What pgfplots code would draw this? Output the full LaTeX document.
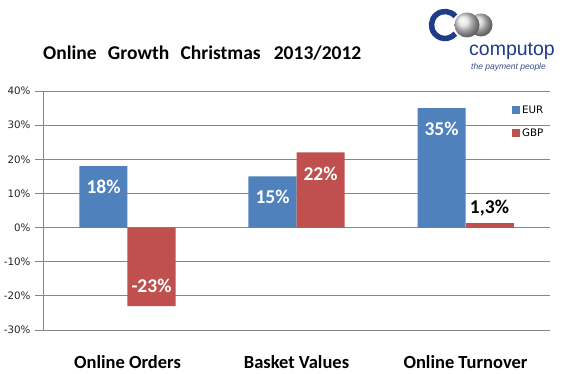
\documentclass[border=0pt]{standalone}
\usepackage{fontspec}
\usepackage{pgfplots}
\pgfplotsset{compat=1.18}
\newfontfamily\calfont{Carlito}
\newfontfamily\tahfont{DejaVu Sans}
\newfontfamily\logofont{Liberation Sans}
\definecolor{eur}{HTML}{4F81BD}
\definecolor{gbp}{HTML}{C0504D}
\definecolor{gridc}{HTML}{868686}
\definecolor{logoblue}{HTML}{1F3C88}
\begin{document}
\begin{tikzpicture}
\useasboundingbox[fill=white] (0pt,0pt) rectangle (565pt,374pt);
% title
\node[anchor=base west, inner sep=0pt, font=\calfont\bfseries\fontsize{19.5}{21}\selectfont] at (43pt,314pt) {Online\hspace{0.35em} Growth\hspace{0.35em} Christmas\hspace{0.45em} 2013/2012};
% logo
\shade[ball color=gray!30] (481pt,349pt) circle (11.5pt);
\shade[ball color=gray!25] (467pt,349pt) circle (12.5pt);
\draw[logoblue, line width=5.5pt] (445pt,349pt) ++(40:13.5pt) arc (40:320:13.5pt);
\node[anchor=base west, inner sep=0pt, text=logoblue, font=\logofont\fontsize{19.5}{20}\selectfont] at (469pt,318pt) {computop};
\node[anchor=base west, inner sep=0pt, text=logoblue!75!gray, font=\logofont\itshape\fontsize{8.5}{9}\selectfont] at (471pt,304pt) {the payment people};
\begin{axis}[
  at={(43pt,44pt)}, anchor=south west,
  scale only axis, width=507pt, height=239pt,
  ybar=0pt, bar width=48pt,
  xmin=-0.5, xmax=2.5, ymin=-30, ymax=40,
  xtick={0,1,2},
  xticklabels={Online Orders, Basket Values, Online Turnover},
  every x tick label/.append style={anchor=base, yshift=-31pt, font=\calfont\bfseries\fontsize{18.5}{20}\selectfont},
  xtick style={draw=none},
  ytick={-30,-20,...,40},
  yticklabels={-30\%,-20\%,-10\%,0\%,10\%,20\%,30\%,40\%},
  every y tick label/.append style={font=\tahfont\fontsize{10.3}{11}\selectfont, text=black!85, xshift=-1pt},
  tick align=outside, major tick length=8pt,
  ytick style={gridc, line width=0.8pt},
  axis lines*=left,
  axis line style={gridc, line width=0.8pt},
  ymajorgrids, grid style={gridc, line width=0.8pt},
  legend style={at={(0.925,0.948)}, anchor=north west, draw=none, fill=none,
    font=\tahfont\fontsize{10.3}{11}\selectfont, row sep=10pt, inner sep=0pt,
    cells={anchor=west}},
  legend cell align=left,
  clip=false,
]
\addplot[fill=eur, draw=none, bar shift=-24pt,
  legend image code/.code={\fill[eur] (0pt,-3.5pt) rectangle (8pt,4.5pt);},
  nodes near coords, point meta=explicit symbolic,
  visualization depends on={rawy \as \ry},
  every node near coord/.append style={anchor=center, text=white, font=\calfont\bfseries\fontsize{19.5}{21}\selectfont, yshift={\ry<0 ? 20 : -21}}]
  coordinates {(0,18) [18\%] (1,15) [15\%] (2,35) [35\%]};
\addlegendentry{EUR}
\addplot[fill=gbp, draw=none, bar shift=24pt,
  legend image code/.code={\fill[gbp] (0pt,-3.5pt) rectangle (8pt,4.5pt);},
  nodes near coords, point meta=explicit symbolic,
  visualization depends on={rawy \as \ry},
  every node near coord/.append style={anchor=center, text=white, font=\calfont\bfseries\fontsize{19.5}{21}\selectfont, yshift={\ry<0 ? 20 : -21}}]
  coordinates {(0,-23) [-23\%] (1,22) [22\%]};
\addlegendentry{GBP}
\addplot[fill=gbp, draw=none, bar shift=24pt, forget plot,
  nodes near coords, point meta=explicit symbolic,
  every node near coord/.append style={anchor=center, text=black, font=\calfont\bfseries\fontsize{19.5}{21}\selectfont, yshift=15}]
  coordinates {(2,1.3) [{1,3\%}]};
\end{axis}
\end{tikzpicture}
\end{document}
